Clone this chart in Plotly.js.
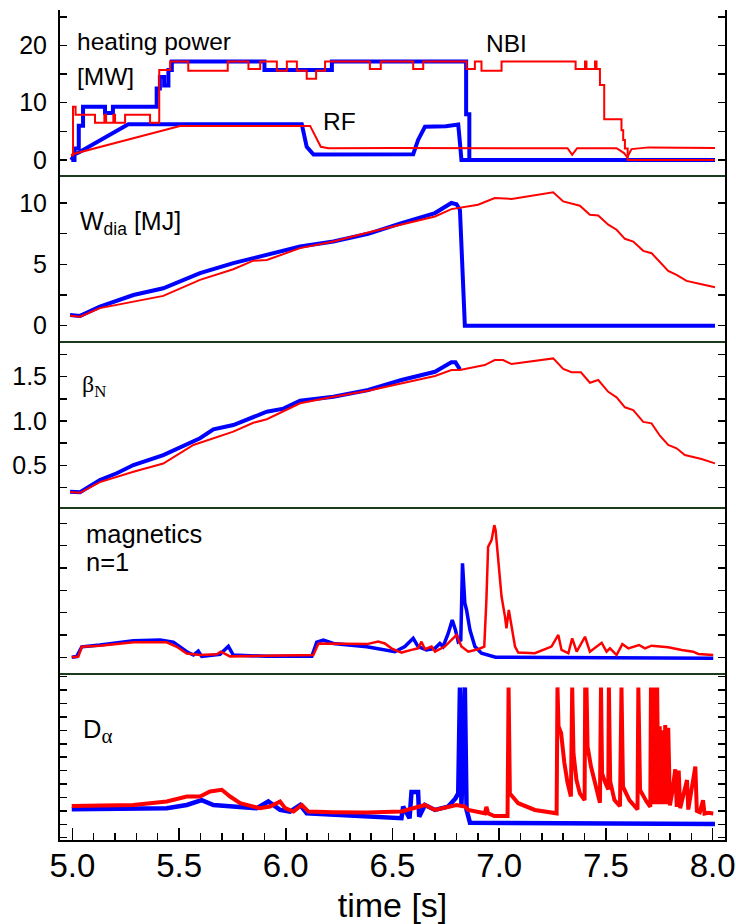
<!DOCTYPE html>
<html><head><meta charset="utf-8">
<script src="https://cdn.plot.ly/plotly-3.0.1.min.js"></script>
<style>html,body{margin:0;padding:0;background:#fff;} #chart{width:736px;height:924px;}</style>
</head><body><div id="chart"></div>
<script>
// ---------- panel 1: heating power [MW] ----------
const t_nbi_blue = [4.995, 5.01, 5.03, 5.05, 5.153, 5.19, 5.395, 5.41, 5.43, 5.45, 5.466, 5.90, 6.216, 6.845, 6.86, 8.011];
const p_nbi_blue = [0, 2, 6, 9.3, 8.2, 9.3, 12.5, 14.5, 13, 15.7, 17.2, 15.7, 17.2, 8, 0, 0];
const t_nbi_red = [4.995, 5.003, 5.015, 5.106, 5.150, 5.158, 5.192, 5.200, 5.247, 5.364, 5.407, 5.419, 5.458, 5.543, 5.728, 5.825, 5.880, 5.911, 5.958, 6.005, 6.052, 6.098, 6.142, 6.184, 6.394, 6.445, 6.597, 6.644, 6.847, 6.886, 6.917, 7.011, 7.358, 7.402, 7.409, 7.449, 7.456, 7.472, 7.480, 7.492, 7.573, 7.581, 7.589, 7.602, 8.011];
const p_nbi_red = [0.8, 9.3, 7.9, 6.5, 7.9, 6.5, 7.9, 6.5, 7.9, 6.5, 15.7, 15.7, 17.2, 15.6, 17.2, 15.9, 17.2, 17.2, 15.6, 17.2, 15.6, 14.2, 15.6, 17.2, 15.9, 17.2, 15.9, 17.2, 15.9, 17.2, 15.6, 17.2, 15.9, 17.2, 15.9, 17.2, 15.9, 13.1, 13.1, 7.1, 5.2, 3.5, 2.0, 0, 0];
const t_rf_blue = [4.995, 5.01, 5.03, 5.262, 6.075, 6.098, 6.13, 6.597, 6.62, 6.652, 6.75, 6.808, 6.816, 6.823, 8.011];
const p_rf_blue = [0, 1.0, 1.3, 6.24, 6.24, 2.3, 0.95, 1.0, 3.5, 5.8, 5.9, 6.2, 3, 0, 0];
const t_rf_red = [4.995, 5.0, 5.504, 6.114, 6.164, 6.2, 6.5, 7.0, 7.32, 7.342, 7.365, 7.55, 7.585, 7.60, 7.62, 7.7, 8.011];
const p_rf_red = [0.8, 1.0, 5.95, 5.95, 2.3, 2.05, 2.1, 2.05, 2.05, 0.9, 2.05, 2.05, 1.2, 0.5, 1.9, 2.2, 2.1];

// ---------- panel 2: W_dia [MJ] ----------
const t_w_blue = [4.989, 5.036, 5.129, 5.286, 5.426, 5.598, 5.754, 5.911, 6.067, 6.223, 6.386, 6.542, 6.699, 6.776, 6.80, 6.816, 6.839, 8.011];
const w_blue = [0.87, 0.8, 1.55, 2.5, 3.05, 4.28, 5.1, 5.78, 6.45, 6.86, 7.49, 8.36, 9.18, 10.0, 9.9, 9.45, 0, 0];
const t_w_red = [4.989, 5.036, 5.129, 5.286, 5.426, 5.598, 5.754, 5.848, 5.911, 6.067, 6.223, 6.386, 6.542, 6.699, 6.776, 6.901, 6.979, 7.058, 7.253, 7.300, 7.378, 7.425, 7.464, 7.511, 7.550, 7.589, 7.628, 7.675, 7.714, 7.792, 7.831, 7.878, 7.948, 8.011];
const w_red = [0.8, 0.73, 1.43, 1.96, 2.43, 3.73, 4.6, 5.3, 5.35, 6.32, 6.86, 7.6, 8.23, 8.9, 9.5, 9.86, 10.4, 10.33, 10.87, 10.13, 9.78, 9.04, 8.98, 8.23, 7.82, 7.08, 6.86, 6.1, 5.91, 4.47, 4.14, 3.65, 3.38, 3.14];

// ---------- panel 3: beta_N ----------
const t_b_blue = [4.989, 5.036, 5.129, 5.208, 5.286, 5.426, 5.598, 5.661, 5.754, 5.911, 5.989, 6.067, 6.223, 6.386, 6.542, 6.699, 6.776, 6.795, 6.816];
const b_blue = [0.202, 0.195, 0.334, 0.41, 0.503, 0.616, 0.805, 0.906, 0.955, 1.105, 1.14, 1.23, 1.274, 1.35, 1.463, 1.556, 1.662, 1.662, 1.583];
const t_b_red = [4.989, 5.036, 5.129, 5.286, 5.426, 5.567, 5.754, 5.848, 5.911, 6.067, 6.223, 6.386, 6.699, 6.776, 6.816, 6.932, 6.979, 7.018, 7.058, 7.253, 7.300, 7.339, 7.383, 7.425, 7.464, 7.511, 7.550, 7.589, 7.628, 7.675, 7.714, 7.753, 7.792, 7.831, 7.870, 7.948, 8.011];
const b_red = [0.2, 0.19, 0.31, 0.428, 0.52, 0.73, 0.88, 0.98, 1.02, 1.2, 1.274, 1.342, 1.508, 1.575, 1.575, 1.632, 1.688, 1.688, 1.643, 1.707, 1.587, 1.55, 1.55, 1.432, 1.463, 1.33, 1.267, 1.155, 1.124, 0.99, 0.974, 0.834, 0.729, 0.692, 0.616, 0.571, 0.522];

// ---------- panel 4: magnetics n=1 (a.u.) ----------
const t_m_blue = [4.997, 5.02, 5.044, 5.129, 5.286, 5.411, 5.473, 5.536, 5.567, 5.590, 5.606, 5.692, 5.731, 5.754, 5.911, 6.122, 6.145, 6.176, 6.223, 6.380, 6.511, 6.558, 6.597, 6.620, 6.659, 6.699, 6.722, 6.737, 6.761, 6.780, 6.795, 6.808, 6.820, 6.828, 6.839, 6.847, 6.863, 6.886, 6.917, 6.983, 8.003];
const m_blue = [0, 0.03, 0.47, 0.55, 0.74, 0.77, 0.68, 0.25, 0.1, 0.28, 0.04, 0.13, 0.49, 0.1, 0.04, 0.04, 0.68, 0.77, 0.62, 0.47, 0.25, 0.48, 0.85, 0.48, 0.33, 0.40, 0.62, 0.48, 1.07, 1.67, 1.22, 0.70, 0.77, 4.21, 2.42, 2.12, 1.22, 0.48, 0.18, 0.0, -0.04];
const t_m_red = [4.997, 5.028, 5.044, 5.129, 5.286, 5.442, 5.489, 5.536, 5.598, 5.677, 5.695, 5.739, 5.911, 6.129, 6.153, 6.223, 6.380, 6.433, 6.464, 6.495, 6.542, 6.589, 6.620, 6.636, 6.652, 6.683, 6.699, 6.745, 6.784, 6.800, 6.823, 6.855, 6.901, 6.930, 6.940, 6.948, 6.964, 6.977, 6.983, 6.995, 7.011, 7.027, 7.034, 7.045, 7.055, 7.074, 7.089, 7.167, 7.245, 7.277, 7.292, 7.324, 7.342, 7.363, 7.402, 7.425, 7.480, 7.503, 7.519, 7.550, 7.577, 7.605, 7.655, 7.683, 7.714, 7.792, 7.855, 7.909, 7.933, 8.003];
const m_red = [0, 0.03, 0.47, 0.52, 0.67, 0.67, 0.47, 0.17, 0.1, 0.13, 0.25, 0.04, 0.07, 0.1, 0.62, 0.62, 0.59, 0.70, 0.62, 0.40, 0.21, 0.33, 0.40, 0.70, 0.36, 0.48, 0.25, 0.48, 0.85, 1.0, 0.48, 0.25, 0.36, 0.48, 2.57, 4.95, 5.25, 5.92, 5.7, 4.36, 2.72, 1.82, 1.30, 2.12, 1.52, 0.48, 0.21, 0.18, 0.48, 1.0, 0.33, 0.18, 0.85, 0.25, 0.92, 0.25, 0.65, 0.25, 0.4, 0.1, 0.59, 0.4, 0.55, 0.4, 0.52, 0.45, 0.33, 0.25, 0.15, 0.1];

// ---------- panel 5: D_alpha (a.u.) ----------
const t_d_blue = [4.997, 5.442, 5.536, 5.606, 5.661, 5.754, 5.864, 5.918, 5.973, 6.020, 6.067, 6.098, 6.223, 6.380, 6.542, 6.55, 6.58, 6.589, 6.62, 6.625, 6.652, 6.699, 6.761, 6.795, 6.808, 6.816, 6.823, 6.839, 6.847, 6.863, 8.011];
const d_blue = [1.12, 1.2, 1.44, 1.8, 1.44, 1.3, 1.2, 1.7, 1.07, 0.95, 1.44, 0.82, 0.7, 0.62, 0.45, 1.32, 0.45, 2.4, 2.4, 0.57, 1.44, 1.07, 1.32, 1.93, 2.3, 10.2, 1.32, 10.2, 1.07, 0.12, 0.02];
const t_d_red = [4.997, 5.286, 5.442, 5.536, 5.598, 5.645, 5.700, 5.739, 5.786, 5.879, 5.926, 5.973, 5.997, 6.036, 6.075, 6.106, 6.223, 6.380, 6.542, 6.652, 6.699, 6.761, 6.800, 6.839, 6.855, 6.933, 6.940, 6.948, 6.977, 7.039, 7.044, 7.050, 7.089, 7.167,
  7.269, 7.273, 7.278, 7.290, 7.305, 7.320, 7.336, 7.342, 7.348, 7.362, 7.378, 7.400, 7.403, 7.406, 7.409, 7.414, 7.430, 7.452, 7.472, 7.477, 7.482, 7.498, 7.511, 7.514, 7.520, 7.540, 7.566, 7.573, 7.580, 7.610, 7.648, 7.652, 7.660, 7.690, 7.708,
  7.711, 7.716, 7.720, 7.726, 7.730, 7.736, 7.740, 7.746, 7.752, 7.758, 7.764, 7.770, 7.778, 7.784, 7.792, 7.800, 7.812, 7.825, 7.832, 7.841, 7.848, 7.865, 7.880, 7.886, 7.900, 7.919, 7.926, 7.940, 7.955, 7.962, 7.980, 8.003];
const d_red = [1.37, 1.44, 1.7, 2.07, 2.07, 2.45, 2.57, 2.07, 1.57, 1.2, 1.32, 1.7, 1.2, 0.95, 1.44, 0.95, 0.9, 0.87, 0.95, 1.44, 1.07, 1.32, 1.44, 1.32, 1.07, 0.82, 1.3, 0.82, 0.62, 0.62, 10.2, 2.3, 1.57, 1.07,
  0.82, 10.2, 7.3, 6.8, 4.6, 3.1, 2.07, 10.2, 5.3, 3.3, 2.3, 1.8, 10.2, 5.8, 10.2, 5.8, 4.3, 2.8, 1.6, 10.2, 3.8, 3.05, 2.6, 10.2, 3.2, 1.8, 1.35, 10.2, 2.8, 1.8, 1.1, 10.2, 2.55, 1.7, 1.3,
  10.2, 1.6, 10.2, 1.5, 10.2, 1.5, 10.2, 1.5, 7.3, 1.5, 7.0, 1.5, 7.4, 1.5, 7.2, 1.4, 2.5, 4.1, 1.3, 4.0, 1.2, 2.2, 3.3, 1.1, 2.5, 4.3, 1.0, 0.9, 1.8, 0.8, 0.85, 0.8];

// ---------- tick labels ----------
const x_ticks = [5.0, 5.5, 6.0, 6.5, 7.0, 7.5, 8.0];
const x_ticklabels = ['5.0', '5.5', '6.0', '6.5', '7.0', '7.5', '8.0'];
const y1_ticks = [0, 10, 20];
const y1_labels = ['0', '10', '20'];
const y2_ticks = [0, 5, 10];
const y2_labels = ['0', '5', '10'];
const y3_ticks = [0.5, 1.0, 1.5];
const y3_labels = ['0.5', '1.0', '1.5'];

const BLUE = '#0000ff', RED = '#ff0000';
const FONT = 'Liberation Sans, Arial, Helvetica, sans-serif';
const SERIF = 'Liberation Serif, Times New Roman, serif';

function tr(x, y, ax, color, width, shape) {
  return {x: x, y: y, xaxis: 'x', yaxis: ax, type: 'scatter', mode: 'lines',
    line: {color: color, width: width, shape: shape || 'linear'}, hoverinfo: 'skip'};
}

const data = [
  tr(t_nbi_blue, p_nbi_blue, 'y', BLUE, 4, 'hv'),
  tr(t_rf_blue, p_rf_blue, 'y', BLUE, 4),
  tr(t_nbi_red, p_nbi_red, 'y', RED, 2, 'hv'),
  tr(t_rf_red, p_rf_red, 'y', RED, 2),
  tr(t_w_blue, w_blue, 'y2', BLUE, 4),
  tr(t_w_red, w_red, 'y2', RED, 2),
  tr(t_b_blue, b_blue, 'y3', BLUE, 4),
  tr(t_b_red, b_red, 'y3', RED, 2),
  tr(t_m_blue, m_blue, 'y4', BLUE, 3.5),
  tr(t_m_red, m_red, 'y4', RED, 2.5),
  tr(t_d_blue, d_blue, 'y5', BLUE, 4.5),
  tr(t_d_red, d_red, 'y5', RED, 4)
];

const XR = [4.942, 8.058];
function yax(domain, range, tickvals, ticktext, minorStep) {
  const a = {domain: domain, range: range, anchor: 'x',
    ticks: 'inside', ticklen: 7, tickwidth: 1.5, tickcolor: '#000',
    minor: {dtick: minorStep, tick0: 0, ticks: 'inside', ticklen: 7, tickwidth: 1.5, tickcolor: '#000', showgrid: false},
    showline: true, linecolor: '#000', linewidth: 2, mirror: 'ticks',
    showgrid: false, zeroline: false, fixedrange: true,
    tickfont: {family: FONT, size: 25, color: '#000'}, ticklabelstandoff: 6};
  if (ticktext) {
    a.tickmode = 'array'; a.tickvals = tickvals; a.ticktext = ticktext;
  } else {
    a.tickmode = 'linear'; a.tick0 = 0; a.dtick = minorStep; a.showticklabels = false;
  }
  return a;
}

// pixel -> paper helpers for annotation placement
const PL = 60, PR = 725, PT = 10, PB = 840;
const px = v => (v - PL) / (PR - PL);
const py = v => (PB - v) / (PB - PT);

function ann(text, x, y, size, family) {
  return {text: text, xref: 'paper', yref: 'paper', x: px(x), y: py(y), xanchor: 'left', yanchor: 'middle',
    showarrow: false, font: {family: family || FONT, size: size, color: '#000'}};
}

const dividers = [0.2, 0.4, 0.6, 0.8].map(v => ({type: 'line', xref: 'paper', yref: 'paper',
  x0: 0, x1: 1, y0: v, y1: v, line: {color: '#1c3a1c', width: 2}}));

const layout = {
  width: 736, height: 924,
  margin: {l: PL, r: 736 - PR, t: PT, b: 924 - PB},
  paper_bgcolor: '#fff', plot_bgcolor: '#fff',
  showlegend: false,
  xaxis: {domain: [0, 1], range: XR, anchor: 'y5', tickmode: 'array', tickvals: x_ticks, ticktext: x_ticklabels,
    ticks: 'inside', ticklen: 12, tickwidth: 1.5, tickcolor: '#000',
    minor: {dtick: 0.1, tick0: 5, ticks: 'inside', ticklen: 7, tickwidth: 1.5, tickcolor: '#000', showgrid: false},
    showline: true, linecolor: '#000', linewidth: 2, showgrid: false, zeroline: false, fixedrange: true,
    tickfont: {family: FONT, size: 33, color: '#000'}, ticklabelstandoff: -5,
    title: {text: 'time [s]', font: {family: FONT, size: 34, color: '#000'}, standoff: 11}},
  xaxis2: {domain: [0, 1], range: XR, anchor: 'y', side: 'top', overlaying: 'x', tickmode: 'array', tickvals: x_ticks,
    ticks: 'inside', ticklen: 12, tickwidth: 1.5, tickcolor: '#000', showticklabels: false,
    minor: {dtick: 0.1, tick0: 5, ticks: 'inside', ticklen: 7, tickwidth: 1.5, tickcolor: '#000', showgrid: false},
    showline: true, linecolor: '#000', linewidth: 2, showgrid: false, zeroline: false, fixedrange: true},
  yaxis: yax([0.8, 1], [-2.8, 26.2], y1_ticks, y1_labels, 5),
  yaxis2: yax([0.6, 0.8], [-1.33, 12.2], y2_ticks, y2_labels, 2.5),
  yaxis3: yax([0.4, 0.6], [0.018, 1.892], y3_ticks, y3_labels, 0.25),
  yaxis4: yax([0.2, 0.4], [-0.75, 6.69], null, null, 1),
  yaxis5: yax([0, 0.2], [-1.17, 11.2], null, null, 1),
  shapes: dividers,
  annotations: [
    ann('heating power', 75, 42, 24.5),
    ann('[MW]', 75, 76, 24.5),
    ann('RF', 321, 121, 24.5),
    ann('NBI', 484, 43, 24.5),
    ann('W<sub>dia</sub> [MJ]', 78, 223, 25),
    ann('β<sub>N</sub>', 80, 386, 24, SERIF),
    ann('magnetics', 84, 534, 25.5),
    ann('n=1', 84, 562, 25.5),
    ann('D<sub><span style="font-family:Liberation Serif;font-size:21px">α</span></sub>', 81, 731, 25.5)
  ]
};

Plotly.newPlot('chart', data, layout, {staticPlot: true, displayModeBar: false});
</script></body></html>
